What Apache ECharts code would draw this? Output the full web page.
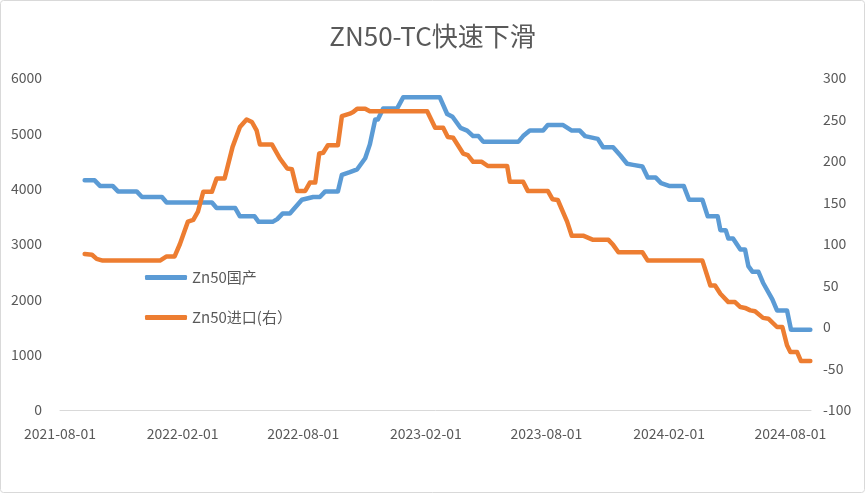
<!DOCTYPE html>
<html>
<head>
<meta charset="utf-8">
<script src="https://cdn.jsdelivr.net/npm/echarts@6/dist/echarts.min.js"></script>
<style>
html,body{margin:0;padding:0;background:#fff;}
#c{width:865px;height:493px;}
</style>
</head>
<body>
<div id="c"></div>
<script>
var title = 'ZN50-TC快速下滑';
var seriesNames = ['Zn50国产', 'Zn50进口(右）'];
var tickDates = ['2021-08-01','2022-02-01','2022-08-01','2023-02-01','2023-08-01','2024-02-01','2024-08-01'];

var domesticDates = ['2021-09-07','2021-09-22','2021-09-30','2021-10-19','2021-10-27','2021-11-24','2021-12-02','2022-01-01','2022-01-08','2022-03-17','2022-03-24','2022-04-21','2022-04-28','2022-05-20','2022-05-26','2022-06-16','2022-06-23','2022-07-01','2022-07-12','2022-07-30','2022-08-16','2022-08-26','2022-09-03','2022-09-22','2022-09-28','2022-10-10','2022-10-21','2022-11-02','2022-11-09','2022-11-17','2022-11-21','2022-11-29','2022-12-20','2022-12-29','2023-02-22','2023-03-05','2023-03-13','2023-03-25','2023-04-04','2023-04-13','2023-04-21','2023-04-28','2023-06-20','2023-06-27','2023-07-07','2023-07-27','2023-08-03','2023-08-26','2023-09-08','2023-09-20','2023-09-28','2023-10-17','2023-10-25','2023-11-09','2023-11-20','2023-11-30','2023-12-09','2023-12-23','2023-12-31','2024-01-12','2024-01-20','2024-02-01','2024-02-23','2024-03-02','2024-03-22','2024-03-30','2024-04-14','2024-04-18','2024-04-26','2024-04-30','2024-05-07','2024-05-18','2024-05-25','2024-05-30','2024-06-05','2024-06-14','2024-06-21','2024-07-05','2024-07-12','2024-07-27','2024-08-02','2024-08-31'];
var domesticValues = [4150,4150,4050,4050,3950,3950,3850,3850,3750,3750,3650,3650,3500,3500,3400,3400,3450,3550,3550,3800,3850,3850,3950,3950,4250,4300,4350,4550,4800,5250,5250,5450,5450,5650,5650,5350,5300,5100,5050,4950,4950,4850,4850,4950,5050,5050,5150,5150,5050,5050,4950,4900,4750,4750,4600,4450,4430,4400,4200,4200,4100,4050,4050,3800,3800,3500,3500,3250,3250,3100,3100,2900,2900,2600,2500,2500,2300,2000,1800,1800,1450,1450];

var importDates = ['2021-09-07','2021-09-18','2021-09-25','2021-10-04','2021-12-29','2022-01-08','2022-01-20','2022-01-28','2022-02-09','2022-02-17','2022-02-24','2022-03-04','2022-03-17','2022-03-24','2022-04-05','2022-04-17','2022-04-28','2022-05-08','2022-05-16','2022-05-23','2022-05-28','2022-06-15','2022-06-27','2022-07-08','2022-07-15','2022-07-23','2022-08-04','2022-08-11','2022-08-19','2022-08-25','2022-08-31','2022-09-07','2022-09-22','2022-09-28','2022-10-10','2022-10-15','2022-10-21','2022-11-02','2022-11-09','2023-02-03','2023-02-15','2023-02-27','2023-03-06','2023-03-14','2023-03-29','2023-04-05','2023-04-13','2023-04-26','2023-05-05','2023-06-03','2023-06-07','2023-06-27','2023-07-04','2023-08-03','2023-08-10','2023-08-18','2023-09-01','2023-09-08','2023-09-25','2023-10-10','2023-11-02','2023-11-09','2023-11-17','2023-12-23','2023-12-31','2024-03-22','2024-04-03','2024-04-10','2024-04-18','2024-04-30','2024-05-10','2024-05-18','2024-05-25','2024-06-02','2024-06-09','2024-06-21','2024-06-29','2024-07-12','2024-07-20','2024-07-27','2024-08-01','2024-08-11','2024-08-17','2024-08-31'];
var importValues = [88,87,82,80,80,85,85,100,127,129,139,163,163,179,179,217,241,250,247,237,220,220,203,191,190,164,164,174,174,209,210,219,219,254,257,259,263,263,260,260,240,240,229,228,209,207,199,199,194,194,175,175,164,164,154,153,127,110,110,105,105,99,90,90,80,80,50,50,40,30,30,24,23,20,19,11,10,0,0,-22,-30,-30,-41,-41];

function pairs(d, v){ return d.map(function(x,i){ return [x, v[i]]; }); }
function ts(s){ var p=s.split('-'); return Date.UTC(+p[0], +p[1]-1, +p[2]); }
function pad(n){ return n<10 ? '0'+n : ''+n; }

var textColor = '#595959';
var font = '"Noto Sans CJK SC", "Noto Sans", sans-serif';
var chart = echarts.init(document.getElementById('c'));
chart.setOption({
  backgroundColor: '#ffffff',
  animation: false,
  textStyle: { fontFamily: font },
  title: {
    text: title, left: 'center', top: 18,
    textStyle: { fontSize: 26, fontWeight: 'normal', color: textColor, fontFamily: font }
  },
  legend: {
    orient: 'vertical', left: 140, top: 265, itemGap: 25, itemTextGap: 4,
    itemWidth: 42, itemHeight: 5, icon: 'roundRect',
    textStyle: { fontSize: 15, color: textColor, fontFamily: font },
    data: seriesNames
  },
  grid: { left: 60, right: 54, top: 78, bottom: 83, containLabel: false },
  xAxis: {
    type: 'value',
    min: ts('2021-08-01'), max: ts('2024-09-01'),
    axisLine: { show: true, onZero: false, lineStyle: { color: '#d9d9d9', width: 1 } },
    axisTick: { show: false },
    splitLine: { show: false },
    axisLabel: {
      customValues: tickDates.map(ts),
      margin: 17, fontSize: 14, color: textColor, fontFamily: font,
      hideOverlap: false, showMinLabel: true, showMaxLabel: true,
      formatter: function (v) { var d = new Date(v); return d.getUTCFullYear() + '-' + pad(d.getUTCMonth()+1) + '-' + pad(d.getUTCDate()); }
    }
  },
  yAxis: [
    { type: 'value', min: 0, max: 6000, interval: 1000,
      axisLine: { show: false }, axisTick: { show: false }, splitLine: { show: false },
      axisLabel: { margin: 18, fontSize: 14, color: textColor, fontFamily: font,
        formatter: function (v) { return String(v); } } },
    { type: 'value', min: -100, max: 300, interval: 50,
      axisLine: { show: false }, axisTick: { show: false }, splitLine: { show: false },
      axisLabel: { margin: 12, fontSize: 14, color: textColor, fontFamily: font,
        formatter: function (v) { return String(v); } } }
  ],
  series: [
    { name: seriesNames[0], type: 'line', yAxisIndex: 0, showSymbol: false, symbol: 'none',
      data: pairs(domesticDates.map(ts), domesticValues),
      lineStyle: { color: '#5b9bd5', width: 4.5, cap: 'round', join: 'round' },
      itemStyle: { color: '#5b9bd5' } },
    { name: seriesNames[1], type: 'line', yAxisIndex: 1, showSymbol: false, symbol: 'none',
      data: pairs(importDates.map(ts), importValues),
      lineStyle: { color: '#ed7d31', width: 4.5, cap: 'round', join: 'round' },
      itemStyle: { color: '#ed7d31' } }
  ],
  graphic: [{
    type: 'rect', silent: true, z: 100,
    shape: { x: 0.5, y: 0.5, width: 864, height: 492, r: 3 },
    style: { fill: 'none', stroke: '#d9d9d9', lineWidth: 1 }
  }]
});
</script>
</body>
</html>
